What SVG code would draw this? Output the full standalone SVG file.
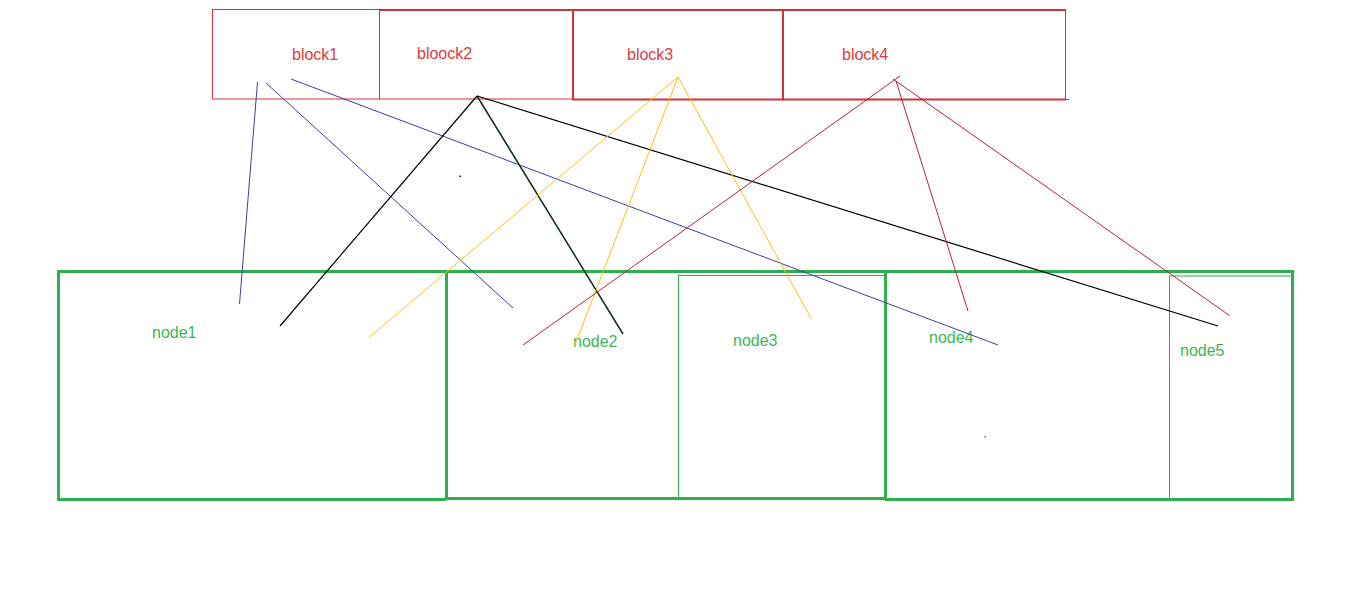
<svg xmlns="http://www.w3.org/2000/svg" width="1360" height="605" viewBox="0 0 1360 605">
<style>
  .blk-thin { fill: none; stroke: #d1323a; stroke-width: 1; }
  .blk-thick { fill: none; stroke: #d1323a; stroke-width: 2; }
  .btxt { font-family: "Liberation Sans", Arial, sans-serif; font-size: 16px; fill: #df3b3f; }
  .nd-thick { fill: none; stroke: #2fae4e; stroke-width: 3; }
  .nd-thin { fill: none; stroke: #2fae4e; stroke-width: 1; }
  .ntxt { font-family: "Liberation Sans", Arial, sans-serif; font-size: 16px; fill: #3bb656; }
  .blue { stroke: #3d3f9c; stroke-width: 1; fill: none; }
  .black { stroke: #000000; stroke-width: 1.2; fill: none; }
  .dkgreen { stroke: #0b2e12; stroke-width: 1.5; fill: none; }
  .yellow { stroke: #f2c514; stroke-width: 1; fill: none; }
  .red { stroke: #b52239; stroke-width: 1; fill: none; }
</style>
<rect width="1360" height="605" fill="#ffffff"/>

<g id="block1">
  <rect class="blk-thin" x="212.5" y="9.5" width="167" height="89.5"/>
  <text class="btxt" x="292" y="60">block1</text>
</g>
<g id="block2">
  <path class="blk-thin" d="M379.5 99 H573"/>
  <path class="blk-thick" d="M379.5 10 H573"/>
  <text class="btxt" x="417" y="59">bloock2</text>
</g>
<g id="block3">
  <rect class="blk-thick" x="573" y="10" width="210" height="89.5"/>
  <text class="btxt" x="627" y="60">block3</text>
</g>
<g id="block4">
  <path class="blk-thick" d="M783 10 H1066 M783 99.5 H1066"/>
  <path class="blk-thin" d="M1065.5 10 V99.5 M1066 99.5 H1069"/>
  <text class="btxt" x="842" y="60">block4</text>
</g>

<g id="node1">
  <path class="nd-thick" d="M446 271.5 H58.5 V499.5 H446"/>
  <text class="ntxt" x="152" y="338">node1</text>
</g>
<g id="node2">
  <rect class="nd-thick" x="446.5" y="271.5" width="439" height="227"/>
  <text class="ntxt" x="573" y="347">node2</text>
</g>
<g id="node3">
  <rect class="nd-thin" x="678.5" y="275.5" width="206" height="223"/>
  <text class="ntxt" x="733" y="346">node3</text>
</g>
<g id="node4">
  <path class="nd-thick" d="M885 271.5 H1292.5 V499.5 H885"/>
  <text class="ntxt" x="929" y="343">node4</text>
</g>
<g id="node5">
  <rect class="nd-thin" x="1169.5" y="276" width="122" height="223"/>
  <text class="ntxt" x="1180" y="356">node5</text>
</g>

<g id="connectors">
  <line class="blue" x1="257.5" y1="82" x2="239.5" y2="304"/>
  <line class="blue" x1="266" y1="83" x2="513" y2="308"/>
  <line class="blue" x1="291" y1="79" x2="998" y2="345"/>

  <line class="black" x1="477" y1="96" x2="280" y2="326"/>
  <line class="dkgreen" x1="477" y1="96" x2="623" y2="334"/>
  <line class="black" x1="477" y1="96" x2="1218" y2="326"/>

  <line class="yellow" x1="678" y1="77" x2="369" y2="337.5"/>
  <line class="yellow" x1="678" y1="77" x2="574.5" y2="346"/>
  <line class="yellow" x1="678" y1="77" x2="811.5" y2="319"/>

  <line class="red" x1="900" y1="76" x2="523" y2="345"/>
  <line class="red" x1="896" y1="81" x2="968" y2="311"/>
  <line class="red" x1="893" y1="79" x2="1229.5" y2="315.5"/>
</g>

<rect x="459.5" y="175.5" width="1.5" height="1.5" fill="#000000"/>
<rect x="984.5" y="436" width="1.5" height="1.5" fill="#1d8f6e"/>
</svg>
